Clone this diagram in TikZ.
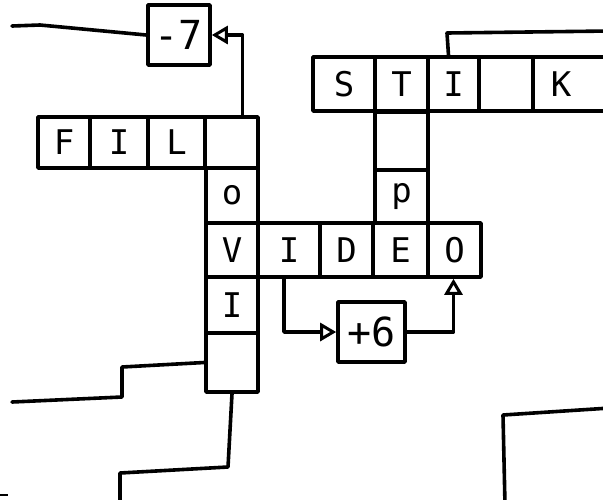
\documentclass[tikz,border=0pt]{standalone}
\usepackage{fontspec}
\setmainfont{DejaVu Sans Mono}
\usetikzlibrary{arrows.meta,calc}
\begin{document}
\begin{tikzpicture}[x=1pt,y=-1pt,
  ink/.style={line width=3.6pt,line cap=round,line join=round},
  cell/.style={ink,draw,inner sep=0pt,font=\fontsize{34}{36}\selectfont},
  opbox/.style={ink,draw,inner sep=0pt,font=\fontsize{40}{42}\selectfont},
  tip/.style={-{Triangle[open,length=16pt,width=18pt,line width=3pt]}}]
\useasboundingbox (0,0) rectangle (603,499);
\clip (0,0) rectangle (603,499);
% operator boxes
\node[opbox,minimum width=62pt,minimum height=60pt] (m7) at (179,35) {-7};
\node[opbox,minimum width=67pt,minimum height=60pt] (p6) at (371.5,332) {+6};
% FIL row
\node[cell,minimum width=52pt,minimum height=51pt] (f1) at (64,142.5) {F};
\node[cell,minimum width=58pt,minimum height=51pt] (f2) at (119,142.5) {I};
\node[cell,minimum width=57pt,minimum height=51pt] (f3) at (176.5,142.5) {L};
\node[cell,minimum width=53pt,minimum height=51pt] (f4) at (231.5,142.5) {};
% vertical column
\node[cell,minimum width=52pt,minimum height=55pt] (c1) at (232,195.5) {o};
\node[cell,minimum width=52pt,minimum height=54pt] (c2) at (232,250) {V};
\node[cell,minimum width=52pt,minimum height=56pt] (c3) at (232,305) {I};
\node[cell,minimum width=52pt,minimum height=59pt] (c4) at (232,362.5) {};
% VIDEO row
\node[cell,minimum width=62pt,minimum height=54pt] (v2) at (289,250) {I};
\node[cell,minimum width=53pt,minimum height=54pt] (v3) at (346.5,250) {D};
\node[cell,minimum width=55pt,minimum height=54pt] (v4) at (400.5,250) {E};
\node[cell,minimum width=53pt,minimum height=54pt] (v5) at (454.5,250) {O};
% P column
\node[cell,minimum width=53pt,minimum height=58pt] (q1) at (401.5,141) {};
\node[cell,minimum width=53pt,minimum height=53pt] (q2) at (401.5,196.5) {p};
% STIK row
\node[cell,minimum width=62pt,minimum height=54pt] (s1) at (344,84) {S};
\node[cell,minimum width=53pt,minimum height=54pt] (s2) at (401.5,84) {T};
\node[cell,minimum width=51pt,minimum height=54pt] (s3) at (453.5,84) {I};
\node[cell,minimum width=54pt,minimum height=54pt] (s4) at (506,84) {};
\node[cell,minimum width=80pt,minimum height=54pt] (s5) at (573,84) {\hspace*{-24pt}K};
% free ends
\coordinate (a1) at (12,26);
\coordinate (b1) at (12,402);
\coordinate (b2) at (120,505);
\coordinate (r1) at (610,408);
\coordinate (r2) at (505,505);
\coordinate (t1) at (610,31);
% connectors
\draw[ink] (a1) -- (40,25) -- (m7.west);
\draw[ink,tip] ($(f4.north)+(11,0)$) |- (m7.east);
\draw[ink,tip] ($(v2.south)+(-5,0)$) |- (p6.west);
\draw[ink,tip] (p6.east) -| ($(v5.south)+(-1,0)$);
\draw[ink] (b1) -- (122,397) -- (122,367) -- (c4.west);
\draw[ink] (c4.south) -- (228,467) -- (120,473) -- (b2);
\draw[ink] (r1) -- (503,415) -- (r2);
\draw[ink] (t1) -- (447,33) -- ($(s3.north)+(-5,0)$);
\draw[line width=1.5pt] (0,495) -- (8,495);
\end{tikzpicture}
\end{document}
